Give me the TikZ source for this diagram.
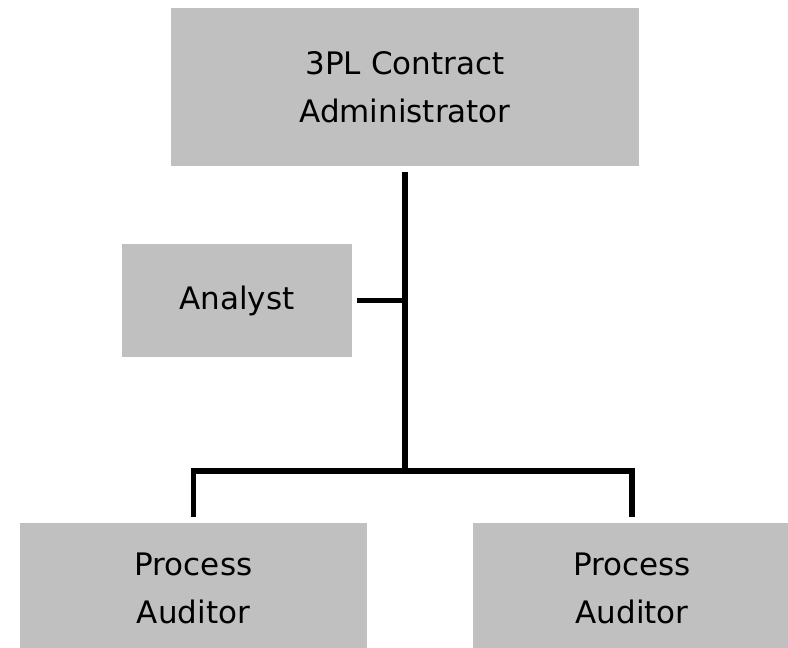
\documentclass[tikz,border=0pt]{standalone}
\usepackage{fontspec}
\setmainfont{DejaVu Sans}
\usepackage{tikz}

\definecolor{boxgray}{HTML}{C0C0C0}

\tikzset{
  role/.style={fill=boxgray, draw=none, align=center, inner sep=0pt,
    font=\fontsize{31}{48}\selectfont},
  link/.style={line width=5.5pt, color=black}
}

\begin{document}
\begin{tikzpicture}[x=1pt,y=1pt]
  \useasboundingbox (0,0) rectangle (788,648);

  \node[role, minimum width=468pt, minimum height=158pt] (admin) at (405,561) {3PL Contract\\Administrator};
  \node[role, minimum width=230pt, minimum height=113pt] (analyst) at (237,347.5) {Analyst};
  \node[role, minimum width=347pt, minimum height=130pt] (auditl) at (193.5,60) {Process\\Auditor};
  \node[role, minimum width=318pt, minimum height=130pt] (auditr) at (632,60) {Process\\Auditor};

  \coordinate (hub) at (405,177);

  \draw[link] ([yshift=-6pt]admin.south) -- (hub);
  \draw[link] ([xshift=5pt]analyst.east) -- (analyst.east -| hub);
  \draw[link] ([yshift=6pt]auditl.north) |- (hub) -| ([yshift=6pt]auditr.north);
\end{tikzpicture}
\end{document}
